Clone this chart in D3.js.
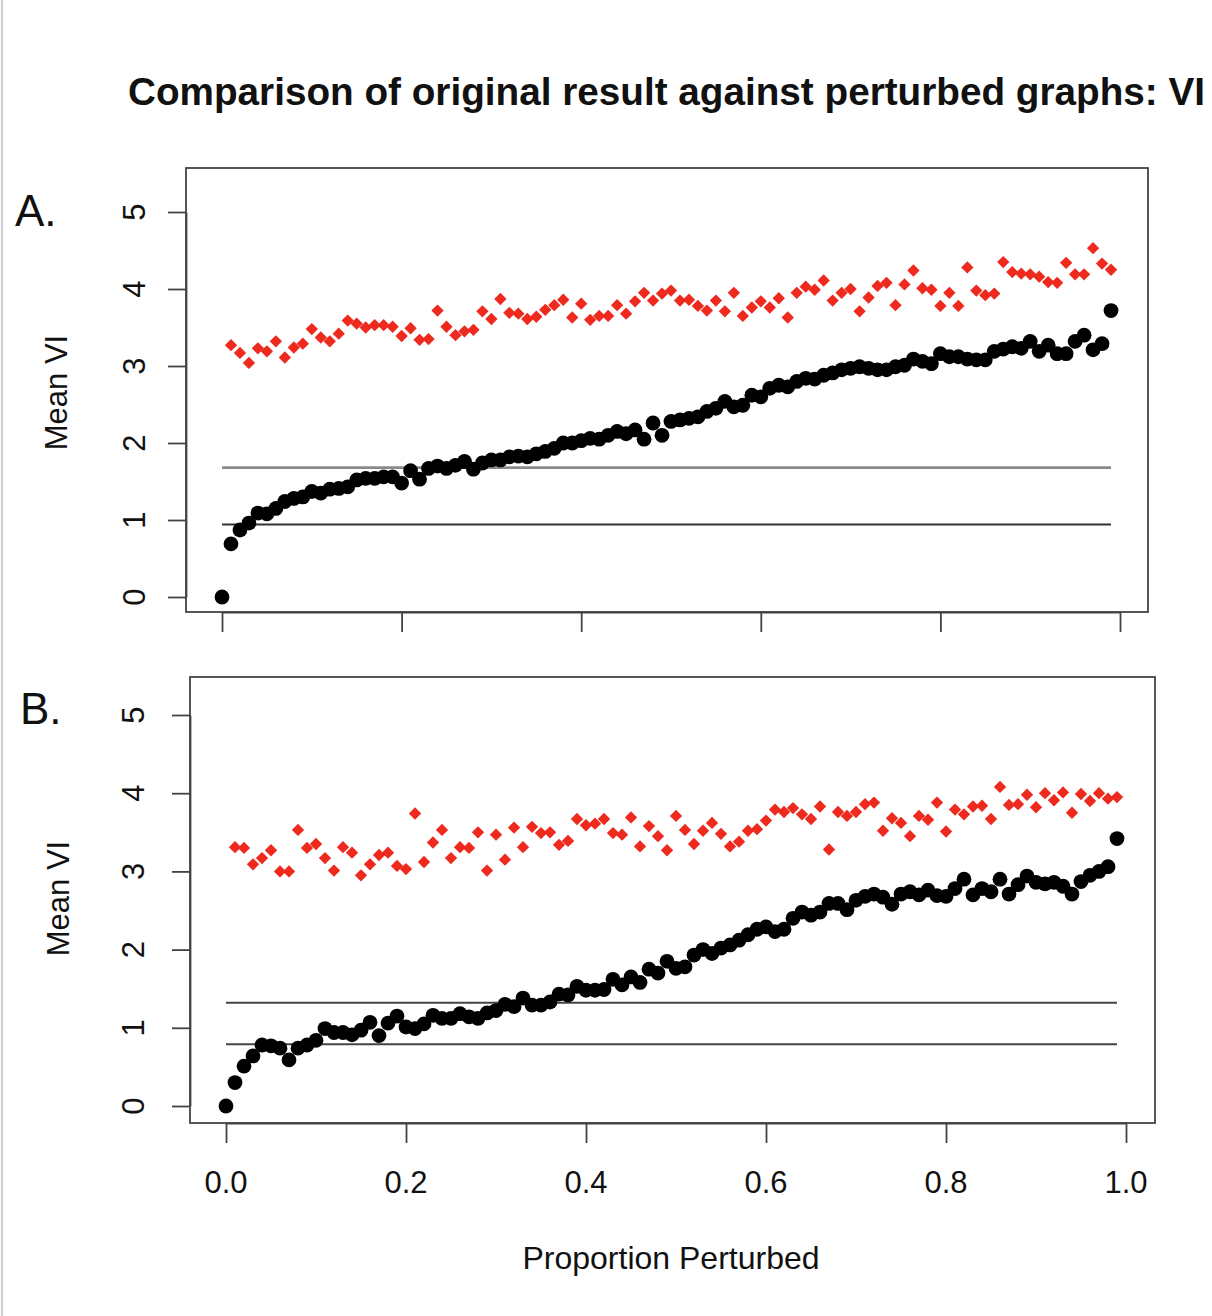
<!DOCTYPE html>
<html>
<head>
<meta charset="utf-8">
<script src="https://cdn.jsdelivr.net/npm/d3@7"></script>
<style>
  html, body { margin: 0; padding: 0; background: #fff; }
  svg { display: block; }
  text { font-family: "Liberation Sans", Arial, Helvetica, sans-serif; fill: #111; }
</style>
</head>
<body>
<div id="chart"></div>
<script>
// ---------------- DATA ----------------
const title = "Comparison of original result against perturbed graphs: VI";
const xLabel = "Proportion Perturbed";
const yLabel = "Mean VI";
const panelLabels = ["A.", "B."];
const yTicks = [0, 1, 2, 3, 4, 5];
const xTicks = [0.0, 0.2, 0.4, 0.6, 0.8, 1.0];
const xTickLabels = ["0.0", "0.2", "0.4", "0.6", "0.8", "1.0"];

const proportions = [
  0.00,0.01,0.02,0.03,0.04,0.05,0.06,0.07,0.08,0.09,
  0.10,0.11,0.12,0.13,0.14,0.15,0.16,0.17,0.18,0.19,
  0.20,0.21,0.22,0.23,0.24,0.25,0.26,0.27,0.28,0.29,
  0.30,0.31,0.32,0.33,0.34,0.35,0.36,0.37,0.38,0.39,
  0.40,0.41,0.42,0.43,0.44,0.45,0.46,0.47,0.48,0.49,
  0.50,0.51,0.52,0.53,0.54,0.55,0.56,0.57,0.58,0.59,
  0.60,0.61,0.62,0.63,0.64,0.65,0.66,0.67,0.68,0.69,
  0.70,0.71,0.72,0.73,0.74,0.75,0.76,0.77,0.78,0.79,
  0.80,0.81,0.82,0.83,0.84,0.85,0.86,0.87,0.88,0.89,
  0.90,0.91,0.92,0.93,0.94,0.95,0.96,0.97,0.98,0.99
];

// Panel A: original result vs perturbed (black circles), starting at 0.00
const blackA = [
  0.00,0.69,0.87,0.96,1.09,1.08,1.15,1.24,1.28,1.30,
  1.37,1.35,1.40,1.41,1.43,1.52,1.54,1.54,1.56,1.56,
  1.48,1.64,1.53,1.67,1.70,1.67,1.71,1.76,1.66,1.74,
  1.78,1.78,1.82,1.83,1.82,1.86,1.89,1.93,2.00,2.00,
  2.03,2.06,2.05,2.10,2.15,2.12,2.17,2.05,2.26,2.10,
  2.28,2.30,2.32,2.34,2.41,2.45,2.54,2.47,2.49,2.62,
  2.60,2.71,2.75,2.73,2.80,2.84,2.83,2.88,2.91,2.95,
  2.97,2.99,2.97,2.95,2.95,2.99,3.01,3.09,3.06,3.03,
  3.16,3.12,3.12,3.09,3.08,3.08,3.19,3.22,3.25,3.23,
  3.32,3.19,3.27,3.16,3.16,3.32,3.40,3.21,3.29,3.72
];
// Panel A: red diamonds, starting at 0.01
const redA = [
  3.27,3.17,3.04,3.23,3.19,3.32,3.11,3.24,3.29,3.48,
  3.37,3.32,3.42,3.59,3.55,3.50,3.53,3.53,3.51,3.39,
  3.49,3.34,3.35,3.72,3.51,3.40,3.45,3.47,3.71,3.61,
  3.87,3.69,3.68,3.61,3.64,3.73,3.79,3.86,3.63,3.81,
  3.60,3.65,3.65,3.79,3.68,3.84,3.95,3.85,3.94,3.98,
  3.85,3.86,3.78,3.72,3.85,3.71,3.95,3.65,3.76,3.84,
  3.76,3.88,3.63,3.95,4.03,3.99,4.11,3.85,3.95,4.00,
  3.71,3.89,4.04,4.08,3.79,4.06,4.24,4.01,3.99,3.78,
  3.95,3.78,4.28,3.98,3.92,3.94,4.35,4.22,4.20,4.19,
  4.16,4.09,4.08,4.34,4.19,4.19,4.53,4.33,4.25
];
const refLinesA = [1.68, 0.94];

// Panel B
const blackB = [
  0.00,0.30,0.51,0.64,0.78,0.77,0.74,0.59,0.74,0.78,
  0.84,0.99,0.94,0.94,0.91,0.97,1.07,0.90,1.06,1.15,
  1.01,0.99,1.05,1.16,1.12,1.12,1.18,1.14,1.12,1.19,
  1.22,1.30,1.27,1.38,1.29,1.29,1.33,1.43,1.42,1.53,
  1.48,1.48,1.49,1.62,1.55,1.65,1.58,1.75,1.70,1.85,
  1.76,1.78,1.93,2.00,1.95,2.02,2.06,2.12,2.19,2.26,
  2.29,2.23,2.26,2.40,2.48,2.44,2.48,2.59,2.59,2.51,
  2.63,2.68,2.71,2.67,2.58,2.71,2.74,2.70,2.76,2.69,
  2.68,2.78,2.90,2.70,2.78,2.74,2.90,2.71,2.83,2.94,
  2.86,2.84,2.86,2.81,2.71,2.87,2.95,3.00,3.06,3.42
];
const redB = [
  3.31,3.30,3.09,3.17,3.27,3.00,3.00,3.53,3.30,3.35,
  3.17,3.01,3.31,3.24,2.95,3.09,3.21,3.24,3.07,3.03,
  3.74,3.12,3.37,3.53,3.17,3.31,3.30,3.50,3.01,3.47,
  3.15,3.56,3.31,3.57,3.49,3.50,3.34,3.39,3.67,3.59,
  3.61,3.67,3.49,3.47,3.69,3.32,3.58,3.45,3.27,3.71,
  3.53,3.35,3.52,3.62,3.48,3.32,3.38,3.52,3.54,3.65,
  3.79,3.76,3.81,3.73,3.67,3.83,3.28,3.76,3.71,3.76,
  3.86,3.88,3.52,3.68,3.62,3.45,3.71,3.66,3.88,3.51,
  3.79,3.73,3.83,3.84,3.67,4.08,3.85,3.86,3.98,3.82,
  4.00,3.91,4.01,3.75,3.99,3.90,4.00,3.93,3.95
];
const refLinesB = [1.32, 0.79];

// ---------------- LAYOUT ----------------
const W = 1212, H = 1316;
const svg = d3.select("#chart").append("svg")
  .attr("width", W).attr("height", H).attr("viewBox", `0 0 ${W} ${H}`);

svg.append("rect").attr("width", W).attr("height", H).attr("fill", "#fff");
svg.append("line").attr("x1", 2).attr("x2", 2).attr("y1", 0).attr("y2", H)
  .attr("stroke", "#cfcfcf").attr("stroke-width", 2);

svg.append("text").attr("x", 128).attr("y", 105)
  .attr("font-size", 38.8).attr("font-weight", "bold").attr("fill", "#000")
  .attr("textLength", 1077).attr("lengthAdjust", "spacingAndGlyphs")
  .text(title);

const panels = [
  { label: panelLabels[0], labelPos: [15, 226], black: blackA, red: redA, refs: refLinesA,
    refColors: ["#8a8a8a", "#333"], refWidths: [2.6, 2],
    box: { x0: 186, x1: 1148, y0: 168, y1: 612 },
    xr: [222, 1120], yr: [597, 212], xLabels: false,
    yLabelX: 145, yTitleX: 67 },
  { label: panelLabels[1], labelPos: [20, 724], black: blackB, red: redB, refs: refLinesB,
    refColors: ["#444", "#444"], refWidths: [2, 2],
    box: { x0: 190, x1: 1155, y0: 677, y1: 1123 },
    xr: [226, 1126], yr: [1106, 715], xLabels: true,
    yLabelX: 144, yTitleX: 69 }
];

const redColor = "#ee2a1f";
const diamond = d3.symbol().type(d3.symbolSquare).size(76);

panels.forEach(p => {
  const g = svg.append("g");
  const x = d3.scaleLinear().domain([0, 1]).range(p.xr);
  const y = d3.scaleLinear().domain([0, 5]).range(p.yr);

  // panel letter
  g.append("text").attr("x", p.labelPos[0]).attr("y", p.labelPos[1])
    .attr("font-size", 44).attr("fill", "#000").text(p.label);

  // box
  g.append("rect").attr("x", p.box.x0).attr("y", p.box.y0)
    .attr("width", p.box.x1 - p.box.x0).attr("height", p.box.y1 - p.box.y0)
    .attr("fill", "none").attr("stroke", "#444").attr("stroke-width", 1.8);

  // y axis
  const yAxis = d3.axisLeft(y).tickValues(yTicks).tickSize(18).tickSizeOuter(0).tickFormat("");
  const ya = g.append("g").attr("transform", `translate(${p.box.x0},0)`).call(yAxis);
  ya.select(".domain").attr("stroke", "#444").attr("stroke-width", 1.8);
  ya.selectAll(".tick line").attr("stroke", "#444").attr("stroke-width", 1.8);

  g.selectAll(".ylab").data(yTicks).enter().append("text")
    .attr("transform", d => `translate(${p.yLabelX},${y(d)}) rotate(-90)`)
    .attr("text-anchor", "middle").attr("font-size", 31).attr("fill", "#222")
    .text(d => d);

  g.append("text")
    .attr("transform", `translate(${p.yTitleX},${(p.yr[0] + p.yr[1]) / 2 - 12}) rotate(-90)`)
    .attr("text-anchor", "middle").attr("font-size", 31).attr("fill", "#222")
    .text(yLabel);

  // x axis
  const xAxis = d3.axisBottom(x).tickValues(xTicks).tickSize(20).tickSizeOuter(0).tickFormat("");
  const xa = g.append("g").attr("transform", `translate(0,${p.box.y1})`).call(xAxis);
  xa.select(".domain").attr("stroke", "#444").attr("stroke-width", 1.8);
  xa.selectAll(".tick line").attr("stroke", "#444").attr("stroke-width", 1.8);

  if (p.xLabels) {
    g.selectAll(".xlab").data(xTicks).enter().append("text")
      .attr("x", d => x(d)).attr("y", 1193)
      .attr("text-anchor", "middle").attr("font-size", 31).attr("fill", "#222")
      .text((d, i) => xTickLabels[i]);
  }

  // reference lines
  p.refs.forEach((v, i) => {
    g.append("line")
      .attr("x1", x(proportions[0])).attr("x2", x(proportions[proportions.length - 1]))
      .attr("y1", y(v)).attr("y2", y(v))
      .attr("stroke", p.refColors[i]).attr("stroke-width", p.refWidths[i]);
  });

  // red diamonds (start at 0.01)
  g.selectAll(".red").data(p.red).enter().append("path")
    .attr("d", diamond)
    .attr("transform", (d, i) => `translate(${x(proportions[i + 1])},${y(d)}) rotate(45)`)
    .attr("fill", redColor);

  // black circles
  g.selectAll(".blk").data(p.black).enter().append("circle")
    .attr("cx", (d, i) => x(proportions[i])).attr("cy", d => y(d))
    .attr("r", 7.4).attr("fill", "#000");
});

svg.append("text").attr("x", 671).attr("y", 1269)
  .attr("text-anchor", "middle").attr("font-size", 32).attr("fill", "#222")
  .text(xLabel);
</script>
</body>
</html>
